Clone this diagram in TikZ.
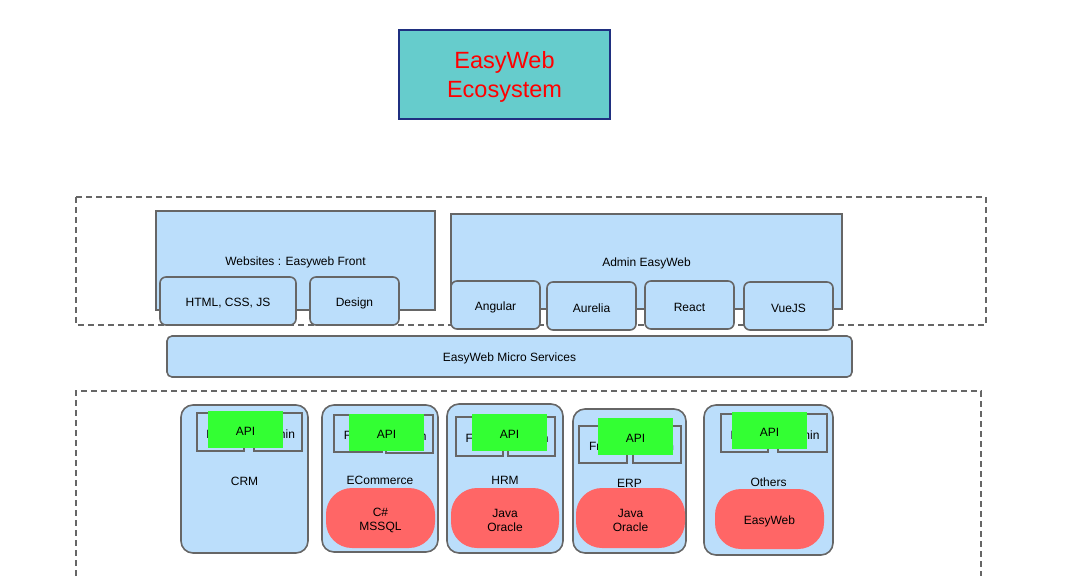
\documentclass[tikz,border=0pt]{standalone}
\usepackage{fontspec}
\setmainfont{Liberation Sans}
\definecolor{lblue}{HTML}{BBDEFB}
\definecolor{bgray}{HTML}{666666}
\definecolor{tealf}{HTML}{66CCCC}
\definecolor{navy}{HTML}{1F2F80}
\definecolor{apigreen}{HTML}{33FF33}
\definecolor{dbred}{HTML}{FF6666}
% #1 name, #2-#5 corners, #6 shape style, #7 text, #8 text style
\newcommand{\mybox}[8]{%
  \node[#6, minimum width={(#4-#2)*1pt}, minimum height={(#5-#3)*1pt}] (#1) at ({(#2+#4)/2},{(#3+#5)/2}) {};
  \node[txt, #8] (#1-t) at ([yshift=-2.2pt]#1.center) {#7};}
\tikzset{
  base/.style={inner sep=0pt, outer sep=0pt},
  txt/.style={inner sep=0pt, outer sep=0pt, font=\fontsize{12}{13.5}\selectfont, align=center},
  sqbox/.style={base, rectangle, draw=bgray, line width=1.6pt, fill=lblue},
  rbox/.style={base, rectangle, rounded corners=6pt, draw=bgray, line width=1.6pt, fill=lblue},
  cbox/.style={base, rectangle, rounded corners=12pt, draw=bgray, line width=1.6pt, fill=lblue},
  inbox/.style={base, rectangle, draw=bgray, line width=1.6pt, fill=lblue},
  apibox/.style={base, rectangle, fill=apigreen},
  dbbox/.style={base, rectangle, rounded corners=26pt, fill=dbred},
  groupbox/.style={draw=bgray, line width=1.4pt, dash pattern=on 6pt off 4pt},
}
\begin{document}
\begin{tikzpicture}[x=1pt,y=-1pt]
\useasboundingbox (0,0) rectangle (1082,576);
% title
\mybox{title}{399}{30}{610}{119}{base, rectangle, draw=navy, line width=1.6pt, fill=tealf}{EasyWeb\\Ecosystem}{text=red, font=\fontsize{23.5}{28.5}\selectfont}
% group frames
\draw[groupbox] (76,197) rectangle (986,325);
\coordinate (gb1) at (76,576);
\coordinate (gb2) at (981,576);
\draw[groupbox] (gb1) -- (76,391) -- (981,391) -- (gb2);
% websites
\mybox{web}{156}{211}{435}{310}{sqbox}{Websites : Easyweb Front}{}
\mybox{html}{160}{277}{296}{325}{rbox}{HTML, CSS, JS}{}
\mybox{design}{310}{277}{399}{325}{rbox}{Design}{}
% admin
\mybox{admin}{451}{214}{842}{309}{sqbox}{Admin EasyWeb}{}
\mybox{angular}{451}{281}{540}{329}{rbox}{Angular}{}
\mybox{aurelia}{547}{282}{636}{330}{rbox}{Aurelia}{}
\mybox{react}{645}{281}{734}{329}{rbox}{React}{}
\mybox{vue}{744}{282}{833}{330}{rbox}{VueJS}{}
% micro services
\mybox{micro}{167}{336}{852}{377}{base, rectangle, rounded corners=5pt, draw=bgray, line width=1.6pt, fill=lblue}{EasyWeb Micro Services}{}
% CRM
\mybox{crm}{181}{405}{308}{553}{cbox}{CRM}{}
\mybox{crmf}{197}{413}{244}{451}{inbox}{Front}{}
\mybox{crma}{254}{413}{302}{451}{inbox}{Admin}{}
\mybox{crmapi}{208}{411}{283}{448}{apibox}{API}{}
% ECommerce
\mybox{ecom}{322}{405}{438}{552}{cbox}{ECommerce}{}
\mybox{ecomf}{334}{415}{382}{452}{inbox}{Front}{}
\mybox{ecoma}{386}{415}{433}{453}{inbox}{Admin}{}
\mybox{ecomapi}{349}{414}{424}{451}{apibox}{API}{}
\mybox{ecomdb}{326}{488}{435}{548}{dbbox}{C\#\\MSSQL}{}
% HRM
\mybox{hrm}{447}{404}{563}{553}{cbox}{HRM}{}
\mybox{hrmf}{456}{417}{503}{456}{inbox}{Front}{}
\mybox{hrma}{508}{417}{555}{456}{inbox}{Admin}{}
\mybox{hrmapi}{472}{414}{547}{451}{apibox}{API}{}
\mybox{hrmdb}{451}{488}{559}{548}{dbbox}{Java\\Oracle}{}
% ERP
\mybox{erp}{573}{409}{686}{553}{cbox}{ERP}{}
\mybox{erpf}{579}{426}{627}{463}{inbox}{Front}{}
\mybox{erpa}{633}{426}{681}{463}{inbox}{Admin}{}
\mybox{erpapi}{598}{418}{673}{455}{apibox}{API}{}
\mybox{erpdb}{576}{488}{685}{548}{dbbox}{Java\\Oracle}{}
% Others
\mybox{oth}{704}{405}{833}{555}{cbox}{Others}{}
\mybox{othf}{721}{414}{768}{452}{inbox}{Front}{}
\mybox{otha}{778}{414}{827}{452}{inbox}{Admin}{}
\mybox{othapi}{732}{412}{807}{449}{apibox}{API}{}
\mybox{othdb}{715}{489}{824}{549}{dbbox}{EasyWeb}{}
\end{tikzpicture}
\end{document}
